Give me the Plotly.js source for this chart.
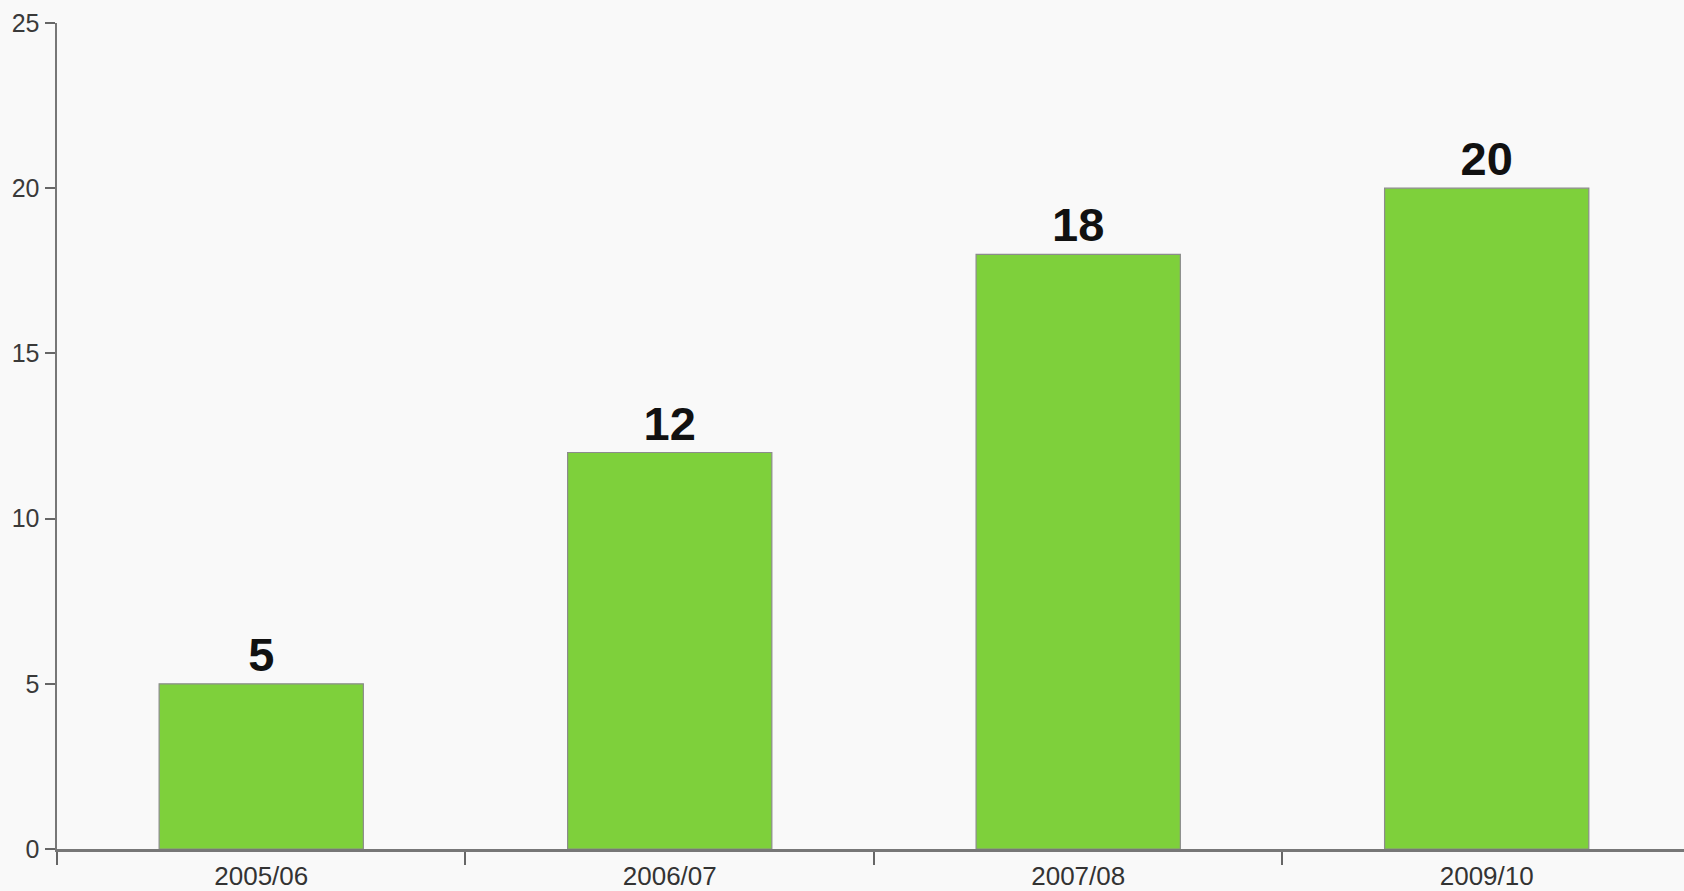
<!DOCTYPE html>
<html>
<head>
<meta charset="utf-8">
<script src="https://cdn.plot.ly/plotly-3.0.1.min.js"></script>
<style>
  html, body { margin: 0; padding: 0; background: #f9f9f9; }
  #chart { width: 1684px; height: 891px; }
</style>
</head>
<body>
<div id="chart"></div>
<script>
const categories = ["2005/06", "2006/07", "2007/08", "2009/10"];
const values = [5, 12, 18, 20];
const yTicks = [0, 5, 10, 15, 20, 25];

const trace = {
  type: "bar",
  x: categories,
  y: values,
  width: 0.5,
  text: values.map(String),
  textposition: "outside",
  cliponaxis: false,
  textfont: { family: "Liberation Sans, Arial, sans-serif", size: 47, color: "#111111", weight: "bold" },
  marker: { color: "#7ed03b", line: { color: "#8c8c8c", width: 1.2 } },
  hoverinfo: "x+y"
};

const layout = {
  width: 1684,
  height: 891,
  margin: { l: 57, r: 0, t: 23, b: 42 },
  paper_bgcolor: "#f9f9f9",
  plot_bgcolor: "#f9f9f9",
  showlegend: false,
  font: { family: "Liberation Sans, Arial, sans-serif", color: "#333333" },
  xaxis: {
    type: "category",
    range: [-0.5, 3.483],
    tickson: "boundaries",
    ticks: "outside",
    ticklen: 13,
    tickwidth: 2,
    tickcolor: "#666666",
    showline: true,
    linecolor: "#777777",
    linewidth: 2.5,
    showgrid: false,
    zeroline: false,
    ticklabelstandoff: 2,
    tickfont: { size: 26, color: "#333333" }
  },
  yaxis: {
    range: [0, 25],
    tickmode: "array",
    tickvals: yTicks,
    ticktext: yTicks.map(String),
    ticks: "outside",
    ticklen: 10,
    tickwidth: 2,
    tickcolor: "#666666",
    showline: true,
    linecolor: "#777777",
    linewidth: 2.5,
    showgrid: false,
    zeroline: false,
    tickfont: { size: 25, color: "#3a3a3a" }
  }
};

Plotly.newPlot("chart", [trace], layout, { displayModeBar: false, staticPlot: true });
</script>
</body>
</html>
